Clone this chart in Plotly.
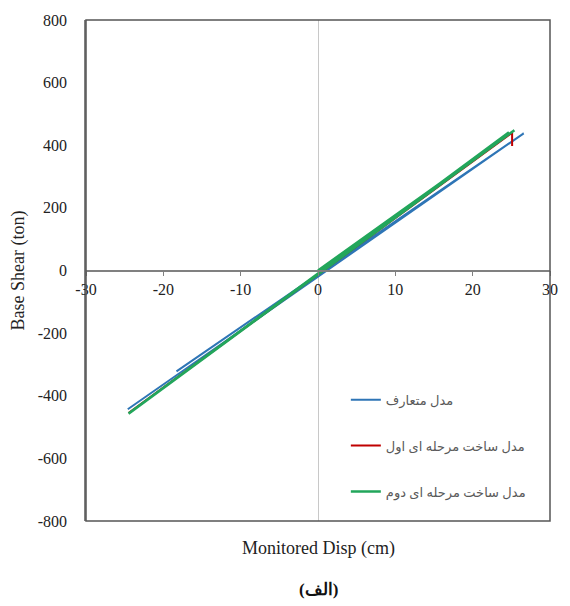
import plotly.graph_objects as go

# Cyclic pushover paths: monitored displacement (cm) vs base shear (ton)
conv_disp = [-18.3, 26.6, -24.6]
conv_shear = [-322, 438, -443]

stage1_disp = [-24.5, 25.1, 25.1]
stage1_shear = [-455, 440, 398]

stage2_disp = [0.0, 25.4, -24.5, 24.7]
stage2_shear = [0, 448, -457, 441]

names = ["مدل متعارف", "مدل ساخت مرحله ای اول", "مدل ساخت مرحله ای دوم"]
colors = ["#2e75b6", "#c00000", "#22a65b"]
widths = [2, 2, 2.6]

x_ticks = [-30, -20, -10, 0, 10, 20, 30]
y_ticks = [-800, -600, -400, -200, 0, 200, 400, 600, 800]

fig = go.Figure()
series = [(conv_disp, conv_shear), (stage1_disp, stage1_shear), (stage2_disp, stage2_shear)]
for i, (xs, ys) in enumerate(series):
    fig.add_trace(go.Scatter(
        x=xs, y=ys, mode="lines", name=names[i], legendgroup=f"g{i}",
        line=dict(color=colors[i], width=widths[i]),
    ))

serif = "'Liberation Serif', 'Times New Roman', serif"

fig.update_layout(
    width=570, height=606,
    margin=dict(l=86, r=13, t=17, b=85),
    plot_bgcolor="white", paper_bgcolor="white",
    font=dict(family=serif, color="#222222"),
    showlegend=True,
    legend=dict(
        x=0.56, y=0.272, xanchor="left", yanchor="top",
        bgcolor="rgba(0,0,0,0)", tracegroupgap=26,
        font=dict(family="'Noto Sans', 'DejaVu Sans', sans-serif", size=13, color="#595959"),
        itemwidth=30,
    ),
    xaxis=dict(
        range=[-30, 30], tickvals=x_ticks, ticktext=[str(v) for v in x_ticks],
        anchor="free", position=0.5,
        showline=True, linecolor="#808080", linewidth=1.5,
        ticks="outside", ticklen=5, tickcolor="#808080",
        showgrid=False, zeroline=True, zerolinecolor="#c8c8c8", zerolinewidth=1,
        tickfont=dict(family=serif, size=16, color="#222222"),
        title=None,
    ),
    yaxis=dict(
        range=[-800, 800], tickvals=y_ticks, ticktext=[str(v) for v in y_ticks],
        showline=True, linecolor="#808080", linewidth=1.5,
        ticks="", showgrid=False, zeroline=False,
        ticklabelstandoff=14,
        tickfont=dict(family=serif, size=16, color="#222222"),
        title=dict(text="Base Shear (ton)", font=dict(family=serif, size=18, color="#222222"), standoff=8),
    ),
    shapes=[
        dict(type="rect", xref="paper", yref="paper", x0=0, y0=0, x1=1, y1=1,
             line=dict(color="#555555", width=1.5), layer="above"),
    ],
    annotations=[
        dict(text="Monitored Disp (cm)", xref="paper", yref="paper", x=0.5, y=-0.054,
             xanchor="center", yanchor="middle", showarrow=False,
             font=dict(family=serif, size=18, color="#222222")),
        dict(text="<b>(الف)</b>", xref="paper", yref="paper", x=0.5, y=-0.137,
             xanchor="center", yanchor="middle", showarrow=False,
             font=dict(family=serif, size=17, color="#111111")),
    ],
)

fig.write_html("out.html")
